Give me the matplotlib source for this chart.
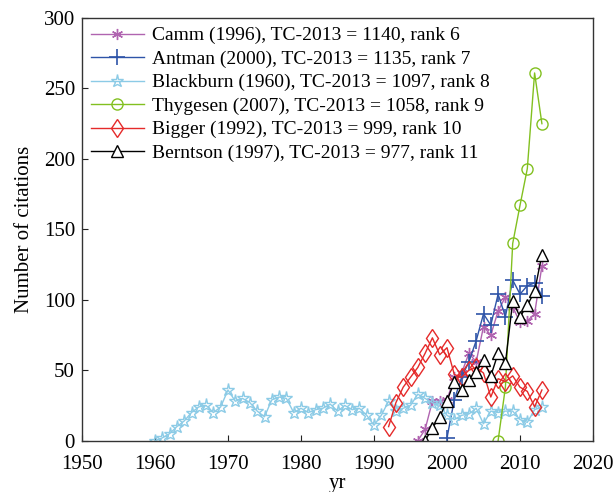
import matplotlib
matplotlib.use("Agg")
import matplotlib.pyplot as plt
import numpy as np

plt.rcParams['font.family'] = ['Liberation Serif', 'DejaVu Serif']

camm_years = list(range(1996, 2014))
camm_vals = [0, 8, 28, 28, 29, 45, 48, 62, 56, 81, 75, 92, 102, 95, 84, 85, 90, 124]

antman_years = list(range(2000, 2014))
antman_vals = [2, 29, 45, 56, 71, 90, 82, 104, 88, 114, 104, 110, 112, 103]

blackburn_years = list(range(1960, 2014))
blackburn_vals = [0, 2, 5, 10, 14, 20, 24, 25, 20, 24,
                  36, 28, 30, 27, 21, 17, 29, 31, 30, 20,
                  23, 20, 22, 23, 26, 21, 25, 22, 23, 18,
                  11, 18, 28, 21, 23, 25, 33, 30, 27, 25,
                  18, 15, 18, 19, 23, 12, 21, 20, 21, 21,
                  15, 13, 22, 24]

thygesen_years = list(range(2007, 2014))
thygesen_vals = [0, 38, 140, 167, 193, 261, 225]

bigger_years = list(range(1992, 2014))
bigger_vals = [10, 27, 38, 45, 52, 62, 73, 61, 66, 47, 45, 50, 52, 48,
               31, 44, 42, 46, 38, 35, 24, 36]

berntson_years = list(range(1997, 2014))
berntson_vals = [0, 9, 17, 28, 42, 36, 43, 49, 57, 46, 62, 55, 99, 88, 96, 106, 132]

labels = ["Camm (1996), TC-2013 = 1140, rank 6",
          "Antman (2000), TC-2013 = 1135, rank 7",
          "Blackburn (1960), TC-2013 = 1097, rank 8",
          "Thygesen (2007), TC-2013 = 1058, rank 9",
          "Bigger (1992), TC-2013 = 999, rank 10",
          "Berntson (1997), TC-2013 = 977, rank 11"]

x_ticks = [1950, 1960, 1970, 1980, 1990, 2000, 2010, 2020]
y_ticks = [0, 50, 100, 150, 200, 250, 300]

fig = plt.figure(figsize=(6.16, 4.92), dpi=100)
ax = fig.add_axes([82/616, 1-440.7/492, (593-82)/616, (440.7-18)/492])

lw = 1.0
ax.plot(camm_years, camm_vals, color='#B064B0', marker=(6, 2, 0), markersize=8,
        lw=lw, label=labels[0])
ax.plot(antman_years, antman_vals, color='#2E54A8', marker='+', markersize=12,
        mew=1.2, lw=lw, label=labels[1])
ax.plot(blackburn_years, blackburn_vals, color='#8CCBE6', marker='*', markersize=9.5,
        mfc='none', mew=1.0, lw=lw, label=labels[2])
ax.plot(thygesen_years, thygesen_vals, color='#82C020', marker='o', markersize=8,
        mfc='none', mew=1.0, lw=lw, label=labels[3])
ax.plot(bigger_years, bigger_vals, color='#E52A2A', marker='d', markersize=9.5,
        mfc='none', mew=1.0, lw=lw, label=labels[4])
ax.plot(berntson_years, berntson_vals, color='black', marker='^', markersize=9,
        mfc='white', mew=1.0, lw=lw, label=labels[5])

ax.set_xlim(1950, 2020)
ax.set_ylim(0, 300)
ax.set_xticks(x_ticks)
ax.set_yticks(y_ticks)
ax.tick_params(direction='in', length=4.3, width=0.8, labelsize=15,
               colors='#222222', labelcolor='black')
ax.tick_params(axis='x', pad=10)
ax.tick_params(axis='y', pad=5)
for s in ax.spines.values():
    s.set_color('#333333')
    s.set_linewidth(1.0)

ax.set_xlabel('yr', fontsize=15, labelpad=0)
ax.set_ylabel('Number of citations', fontsize=15, labelpad=7)

leg = ax.legend(loc='upper left', frameon=False, fontsize=14,
                handlelength=2.75, handletextpad=0.38, labelspacing=0.3,
                borderaxespad=0.2, borderpad=0.25)

fig.savefig('out.png', dpi=100)
